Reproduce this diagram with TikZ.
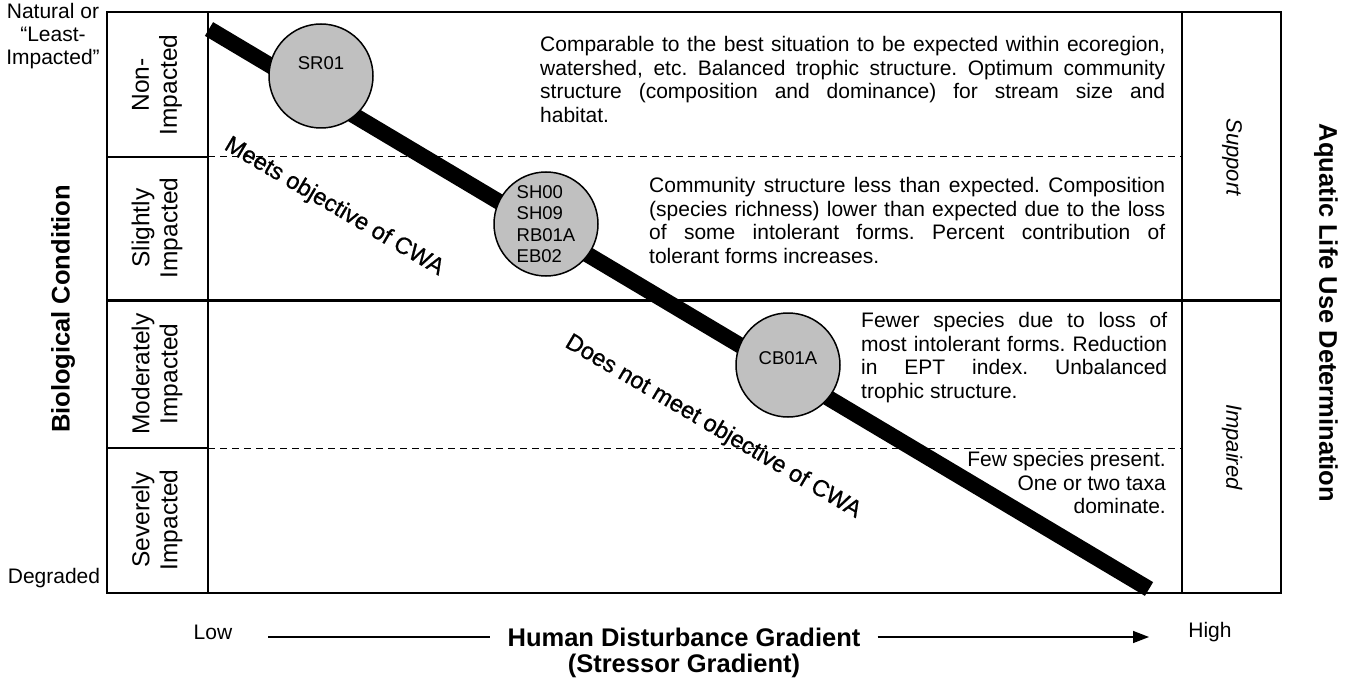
\documentclass[tikz,border=0pt]{standalone}
\usepackage{fontspec}
\setmainfont{Liberation Sans}
\newfontfamily\wordart[FakeBold=0.8]{Liberation Sans}
\usetikzlibrary{arrows.meta}
\setlength{\parindent}{0pt}
\hyphenpenalty=10000
\exhyphenpenalty=10000
\frenchspacing
\definecolor{sitegray}{RGB}{192,192,192}
\tikzstyle{frame} = [line width=1.5pt]
\tikzstyle{divider} = [line width=3pt]
\tikzstyle{dashline} = [line width=1pt,
dash pattern=on 7pt off 5pt]
\tikzstyle{band} = [line width=16pt]
\tikzstyle{site} = [circle, draw=black,
line width=1.5pt,
fill=sitegray,
minimum size=104pt,
inner sep=0pt,
align=left,
font=\fontsize{18.5}{21.5}\selectfont]
\tikzstyle{desc} = [anchor=north west, inner sep=0pt,
align=justify,
font=\fontsize{21}{23.7}\selectfont]
\tikzstyle{rowlabel} = [rotate=90, align=center,
font=\fontsize{24.5}{28}\selectfont]
\tikzstyle{uselabel} = [rotate=-90,
font=\fontsize{22}{24}\selectfont\itshape]
\tikzstyle{endlabel} = [align=center, inner sep=0pt,
font=\fontsize{21}{23}\selectfont]
\tikzstyle{axistitle} = [font=\fontsize{25.5}{30}\selectfont\bfseries]
\tikzstyle{cwa} = [rotate=-30.5,
font=\fontsize{23.5}{26}\selectfont\wordart]
\tikzstyle{arrow} = [line width=1.5pt,-{Triangle[length=16pt,width=12pt]}]

\begin{document}
\begin{tikzpicture}[x=1pt, y=-1pt]
    \useasboundingbox (0,0) rectangle (1349,679);

    % grid of condition classes
    \draw [frame] (107,12) rectangle (1281,593);
    \draw [frame] (208,12) -- (208,593);
    \draw [frame] (1182,12) -- (1182,593);
    \draw [frame] (107,157) -- (208,157);
    \draw [frame] (107,448) -- (208,448);
    \draw [dashline] (208,157) -- (1182,157);
    \draw [dashline] (208,448) -- (1182,448);
    \draw [divider] (107,300) -- (1281,300);

    % disturbance band
    \coordinate (bandstart) at (209,29);
    \coordinate (bandend) at (1149,589);
    \draw [band] (bandstart) -- (bandend);

    % sites
    \node (sr01) [site, text depth=26pt] at (321,76) {SR01};
    \node (sh00) [site] at (546,224) {SH00\\SH09\\RB01A\\EB02};
    \node (cb01a) [site, text depth=13pt] at (788,365) {CB01A};

    % class descriptions
    \node (nondesc) [desc, text width=625pt] at (540,36) {Comparable to the best situation to be expected within ecoregion,\linebreak watershed, etc. Balanced trophic structure. Optimum community\linebreak structure (composition and dominance) for stream size and\linebreak habitat.};
    \node (slightdesc) [desc, text width=516pt] at (649,177) {Community structure less than expected. Composition\linebreak (species richness) lower than expected due to the loss\linebreak of some intolerant forms. Percent contribution of\linebreak tolerant forms increases.};
    \node (moddesc) [desc, text width=306pt] at (861,312) {Fewer species due to loss of\linebreak most intolerant forms. Reduction\linebreak in EPT index. Unbalanced\linebreak trophic structure.};
    \node (sevdesc) [desc, anchor=north east, align=right] at (1166,451) {Few species present.\\One or two taxa\\dominate.};

    \node (meets) [cwa] at (334,207) {Meets objective of CWA};
    \node (notmeet) [cwa] at (713,427) {Does not meet objective of CWA};

    % row and column labels
    \node (nonimp) [rowlabel] at (157,85) {Non-\\Impacted};
    \node (slightimp) [rowlabel] at (157,228) {Slightly\\Impacted};
    \node (modimp) [rowlabel] at (157,374) {Moderately\\Impacted};
    \node (sevimp) [rowlabel] at (157,520) {Severely\\Impacted};
    \node (support) [uselabel] at (1232,157) {Support};
    \node (impaired) [uselabel] at (1232,447) {Impaired};

    \node (natural) [endlabel] at (53,36) {Natural or\\“Least-\\Impacted”};
    \node (degraded) [endlabel] at (54,578) {Degraded};
    \node (biocond) [axistitle, rotate=90] at (63,309) {Biological Condition};
    \node (aquatic) [axistitle, rotate=-90] at (1326,313) {Aquatic Life Use Determination};

    % gradient axis
    \node (low) [endlabel] at (213,632) {Low};
    \node (high) [endlabel] at (1210,632) {High};
    \node (gradient) [axistitle, inner xsep=17pt, inner ysep=0pt] at (684,637) {Human Disturbance Gradient};
    \node (stressor) [axistitle] at (684,666) {(Stressor Gradient)};
    \coordinate (arrowstart) at (268,637);
    \coordinate (arrowend) at (1149,637);
    \draw [frame] (arrowstart) -- (gradient.west);
    \draw [arrow] (gradient.east) -- (arrowend);

\end{tikzpicture}
\end{document}
